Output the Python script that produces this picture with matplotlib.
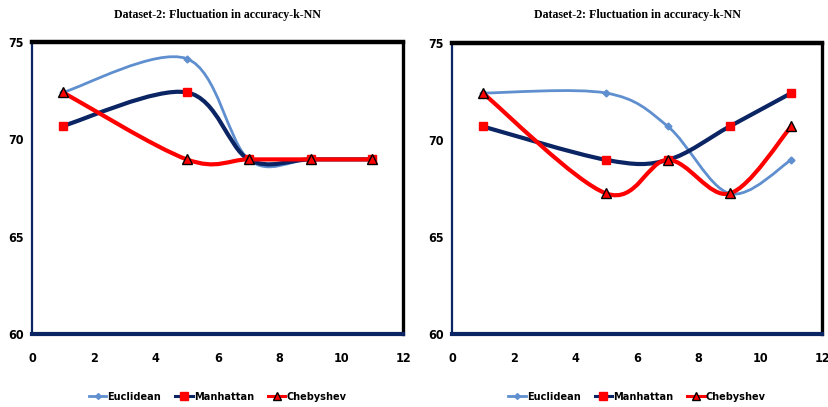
import matplotlib
matplotlib.use("Agg")
import matplotlib.pyplot as plt
from matplotlib.path import Path
from matplotlib.patches import PathPatch
from matplotlib.lines import Line2D
import numpy as np

# k values and accuracies (%) for the two runs
K_VALUES = [1, 5, 7, 9, 11]

LEFT_EUCLIDEAN = [72.41, 74.14, 68.97, 68.97, 68.97]
LEFT_MANHATTAN = [70.69, 72.41, 68.97, 68.97, 68.97]
LEFT_CHEBYSHEV = [72.41, 68.97, 68.97, 68.97, 68.97]

RIGHT_EUCLIDEAN = [72.41, 72.41, 70.69, 67.24, 68.97]
RIGHT_MANHATTAN = [70.69, 68.97, 68.97, 70.69, 72.41]
RIGHT_CHEBYSHEV = [72.41, 67.24, 68.97, 67.24, 70.69]

SERIES_NAMES = ["Euclidean", "Manhattan", "Chebyshev"]
TITLE = "Dataset-2: Fluctuation in accuracy-k-NN"
X_TICKS = [0, 2, 4, 6, 8, 10, 12]
Y_TICKS = [60, 65, 70, 75]

LIGHT_BLUE = "#5f8fcf"
NAVY = "#0b2463"
RED = "#ff0000"

SANS = ["Liberation Sans Narrow", "DejaVu Sans"]
SERIF = ["Liberation Serif", "DejaVu Serif"]
FONT_KW = dict(family=SANS, weight="bold", stretch="condensed")

# line colour, line width, marker, marker face, marker edge, marker size
STYLES = [
    (LIGHT_BLUE, 2.0, "D", LIGHT_BLUE, LIGHT_BLUE, 3.5),
    (NAVY, 3.0, "s", RED, RED, 6.0),
    (RED, 3.0, "^", RED, "black", 6.5),
]


def smooth_path(xs, ys, t=1.0 / 6.0):
    # Catmull-Rom style cubic bezier, like a spreadsheet "smoothed line"
    pts = np.column_stack([xs, ys]).astype(float)
    n = len(pts)
    verts = [pts[0]]
    codes = [Path.MOVETO]
    for i in range(n - 1):
        p_prev = pts[max(i - 1, 0)]
        p0 = pts[i]
        p1 = pts[i + 1]
        p_next = pts[min(i + 2, n - 1)]
        c1 = p0 + (p1 - p_prev) * t
        c2 = p1 - (p_next - p0) * t
        verts += [c1, c2, p1]
        codes += [Path.CURVE4] * 3
    return Path(verts, codes)


def draw_panel(fig, rect, data):
    ax = fig.add_axes(rect)
    for i, (vals, style) in enumerate(zip(data, STYLES)):
        color, lw, marker, face, edge, size = style
        patch = PathPatch(smooth_path(K_VALUES, vals), facecolor="none",
                          edgecolor=color, linewidth=lw, capstyle="round",
                          joinstyle="round", zorder=2 + i * 2)
        ax.add_patch(patch)
        ax.plot(K_VALUES, vals, linestyle="none", marker=marker,
                markerfacecolor=face, markeredgecolor=edge,
                markersize=size, markeredgewidth=1.0, zorder=3 + i * 2,
                clip_on=False)

    ax.set_xlim(0, 12)
    ax.set_ylim(60, 75)
    ax.set_xticks(X_TICKS)
    ax.set_yticks(Y_TICKS)
    ax.tick_params(length=0)
    ax.tick_params(axis="x", pad=13)
    ax.tick_params(axis="y", pad=6)
    for lab in ax.get_xticklabels() + ax.get_yticklabels():
        lab.set_fontfamily(SANS)
        lab.set_fontweight("bold")
        lab.set_fontstretch("condensed")
        lab.set_fontsize(9)

    ax.spines["top"].set_color("black")
    ax.spines["top"].set_linewidth(3.2)
    ax.spines["right"].set_color("black")
    ax.spines["right"].set_linewidth(2.4)
    ax.spines["left"].set_color(NAVY)
    ax.spines["left"].set_linewidth(1.6)
    ax.spines["bottom"].set_color(NAVY)
    ax.spines["bottom"].set_linewidth(3.0)

    fig.text(rect[0] + rect[2] / 2, 0.962, TITLE, ha="center", va="center",
             family=SERIF, fontweight="bold", fontsize=8.6)

    handles = []
    for style in STYLES:
        color, lw, marker, face, edge, size = style
        handles.append(Line2D([], [], color=color, linewidth=min(lw, 2.2),
                              marker=marker, markerfacecolor=face,
                              markeredgecolor=edge, markersize=size * 0.85))
    ax.legend(handles, SERIES_NAMES, loc="center",
              bbox_to_anchor=(0.5, -0.215), ncol=3, frameon=False,
              handlelength=1.6, handletextpad=0.1, columnspacing=1.3,
              prop=dict(size=7.8, **FONT_KW))
    return ax


fig = plt.figure(figsize=(8.29, 4.07), dpi=100)
draw_panel(fig, [0.0386, 0.179, 0.448, 0.718],
           [LEFT_EUCLIDEAN, LEFT_MANHATTAN, LEFT_CHEBYSHEV])
draw_panel(fig, [0.5452, 0.179, 0.4465, 0.716],
           [RIGHT_EUCLIDEAN, RIGHT_MANHATTAN, RIGHT_CHEBYSHEV])

fig.savefig("out.png", dpi=100)
